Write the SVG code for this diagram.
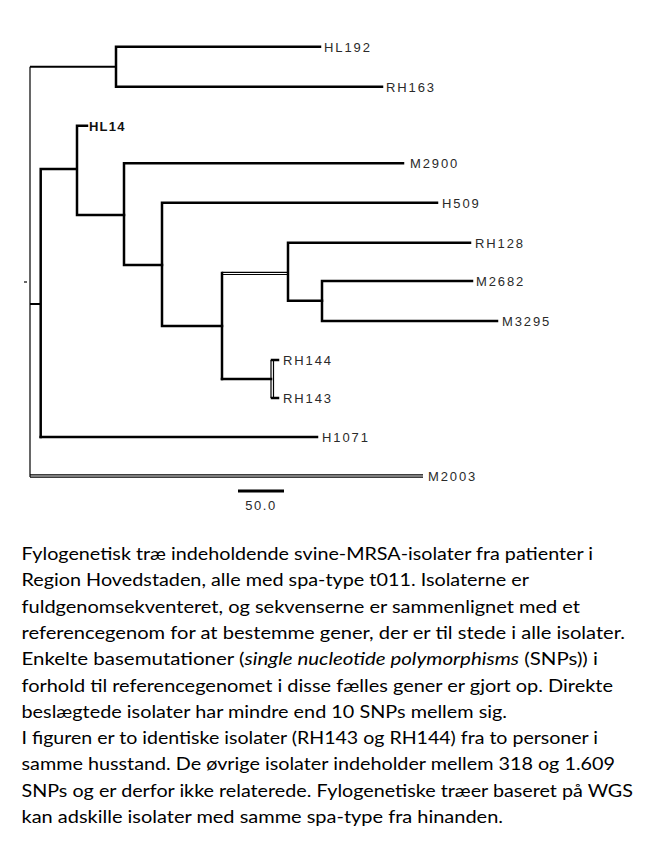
<svg xmlns="http://www.w3.org/2000/svg" width="661" height="847" viewBox="0 0 661 847">
<style>
.b{fill:none;stroke:#000;stroke-width:2.5;stroke-linecap:square}
.t{fill:none;stroke:#000;stroke-width:1.2}
.m{fill:none;stroke:#000;stroke-width:2}
.lbl{font-family:"Liberation Sans",Arial,sans-serif;font-size:13px;letter-spacing:1.9px;fill:#2a2a2a}
.cap{font-family:Lato,"Open Sans",sans-serif;font-size:18px;fill:#000}
</style>
<rect width="661" height="847" fill="#fff"/>
<g id="connectors">
<path class="b" d="M116,46.7 H320 M116,86.7 H382 M116,46.7 V86.7"/>
<path class="m" d="M30,66.7 H116"/>
<path class="t" d="M30,66.7 V477"/>
<path class="t" d="M24,282 H27"/>
<path class="m" d="M30,304 H40.7"/>
<path class="b" d="M40.7,169 V437 M40.7,169 H77 M77,125.7 V215 M77,125.7 H87 M77,215 H124"/>
<path class="b" d="M124,163.3 V265 M124,163.3 H403 M124,265 H162"/>
<path class="b" d="M162,202.7 V326 M162,202.7 H437 M162,326 H222"/>
<path class="b" d="M222,273 V379"/>
<path class="t" d="M222,272.3 H288 M222,274.5 H288"/>
<path class="b" d="M288,242.7 V300.7 M288,242.7 H470 M288,300.7 H322"/>
<path class="b" d="M322,281 V321 M322,281 H472 M322,321 H497"/>
<path class="b" d="M222,379 H271"/>
<path class="t" d="M271,360 V398 M273.5,360 V398"/>
<path class="b" d="M272,360 H278 M272,398 H278"/>
<path class="b" d="M40.7,437 H317"/>
<path class="t" d="M30,474.8 H423 M30,477.2 H423"/>
</g>
<g id="HL192"><text class="lbl" x="324" y="51.5">HL192</text></g>
<g id="RH163"><text class="lbl" x="386" y="91.5">RH163</text></g>
<g id="HL14"><text class="lbl" x="89" y="130.5" font-weight="bold" style="letter-spacing:1.2px;fill:#111">HL14</text></g>
<g id="M2900"><text class="lbl" x="410" y="168">M2900</text></g>
<g id="H509"><text class="lbl" x="442" y="207.5">H509</text></g>
<g id="RH128"><text class="lbl" x="475" y="247.5">RH128</text></g>
<g id="M2682"><text class="lbl" x="476" y="286">M2682</text></g>
<g id="M3295"><text class="lbl" x="502" y="326">M3295</text></g>
<g id="RH144"><text class="lbl" x="283" y="365">RH144</text></g>
<g id="RH143"><text class="lbl" x="283" y="403">RH143</text></g>
<g id="H1071"><text class="lbl" x="322" y="442">H1071</text></g>
<g id="M2003"><text class="lbl" x="428" y="481">M2003</text></g>
<g id="scale">
<path d="M238,491 H284" stroke="#000" stroke-width="3"/>
<text class="lbl" x="261" y="510" text-anchor="middle" style="letter-spacing:1.5px">50.0</text>
</g>
<g id="caption">
<text class="cap" x="21.5" y="560" textLength="571.5" lengthAdjust="spacingAndGlyphs">Fylogenetisk træ indeholdende svine-MRSA-isolater fra patienter i</text>
<text class="cap" x="21.5" y="586.3" textLength="507.5" lengthAdjust="spacingAndGlyphs">Region Hovedstaden, alle med spa-type t011. Isolaterne er</text>
<text class="cap" x="21.5" y="612.6" textLength="558.5" lengthAdjust="spacingAndGlyphs">fuldgenomsekventeret, og sekvenserne er sammenlignet med et</text>
<text class="cap" x="21.5" y="638.9" textLength="603.5" lengthAdjust="spacingAndGlyphs">referencegenom for at bestemme gener, der er til stede i alle isolater.</text>
<text class="cap" x="21.5" y="665.2" textLength="576.5" lengthAdjust="spacingAndGlyphs">Enkelte basemutationer (<tspan font-style="italic">single nucleotide polymorphisms</tspan> (SNPs)) i</text>
<text class="cap" x="21.5" y="691.5" textLength="591.5" lengthAdjust="spacingAndGlyphs">forhold til referencegenomet i disse fælles gener er gjort op. Direkte</text>
<text class="cap" x="21.5" y="717.8" textLength="485.5" lengthAdjust="spacingAndGlyphs">beslægtede isolater har mindre end 10 SNPs mellem sig.</text>
<text class="cap" x="21.5" y="744.1" textLength="576.5" lengthAdjust="spacingAndGlyphs">I figuren er to identiske isolater (RH143 og RH144) fra to personer i</text>
<text class="cap" x="21.5" y="770.4" textLength="593.5" lengthAdjust="spacingAndGlyphs">samme husstand. De øvrige isolater indeholder mellem 318 og 1.609</text>
<text class="cap" x="21.5" y="796.7" textLength="611.5" lengthAdjust="spacingAndGlyphs">SNPs og er derfor ikke relaterede. Fylogenetiske træer baseret på WGS</text>
<text class="cap" x="21.5" y="823" textLength="481.5" lengthAdjust="spacingAndGlyphs">kan adskille isolater med samme spa-type fra hinanden.</text>
</g>
</svg>
